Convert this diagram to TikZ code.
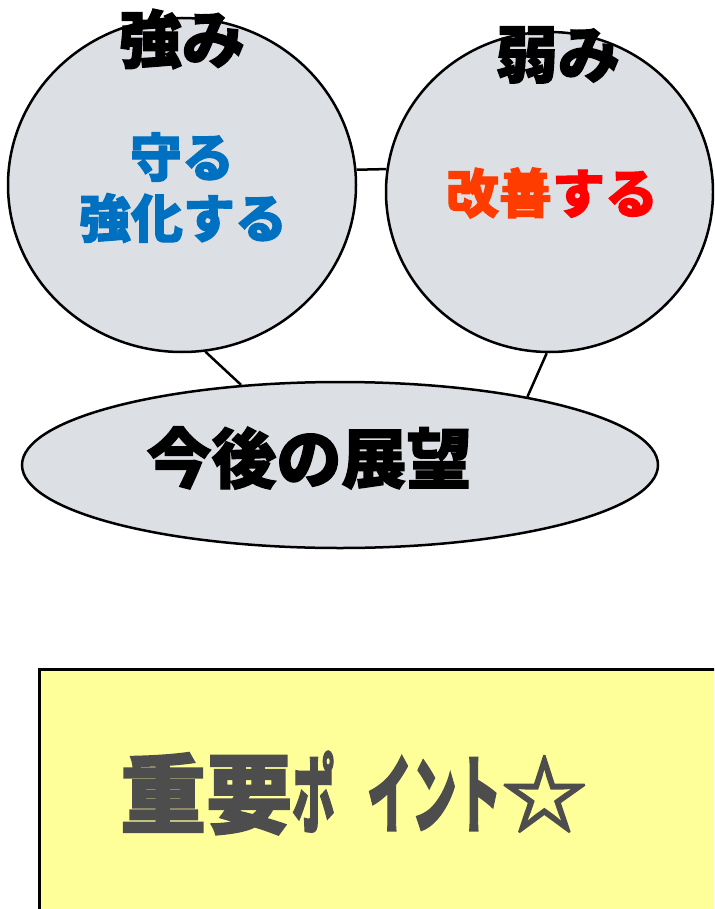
\documentclass[tikz,border=0pt]{standalone}
\usepackage{fontspec}
\usetikzlibrary{shapes.geometric}
\newfontfamily\jp{Noto Sans CJK JP}[BoldFeatures={FakeBold=2}]
\definecolor{cfill}{RGB}{220,223,228}
\definecolor{cblue}{RGB}{0,112,192}
\definecolor{corange}{RGB}{255,60,0}
\definecolor{cred}{RGB}{255,0,0}
\definecolor{cyellow}{RGB}{255,255,153}
\definecolor{cgray}{RGB}{77,77,77}
\tikzset{
  bubble/.style={ellipse, draw=black, line width=2.5pt, fill=cfill, inner sep=0pt},
  link/.style={draw=black, line width=2.5pt},
  lbl/.style={inner sep=0pt, font=\jp\bfseries},
}
\begin{document}
\begin{tikzpicture}[x=1pt,y=-1pt]
\useasboundingbox (0,0) rectangle (714,909);
\clip (0,0) rectangle (714,909);
% bubbles
\node[bubble, minimum width=348pt, minimum height=334pt] (L) at (182,185) {};
\node[bubble, minimum width=327pt, minimum height=320pt] (R) at (549.5,192) {};
\node[bubble, minimum width=636pt, minimum height=166pt] (E) at (340,465) {};
% connectors
\draw[link] (L.5) -- (R.172);
\draw[link] (L.-82) -- (E.141.7);
\draw[link] (R.-91.6) -- (E.20.8);
% labels
\node[lbl, text=black] (ts) at (182,39) {\fontsize{63}{63}\selectfont 強み};
\node[lbl, text=black] (tw) at (558,55) {\fontsize{62}{62}\selectfont 弱み};
\node[lbl, text=cblue] (t1) at (182,157) {\fontsize{52}{52}\selectfont 守る};
\node[lbl, text=cblue] (t2) at (183,218) {\fontsize{52}{52}\selectfont 強化する};
\node[lbl] (t3) at (552,193) {\fontsize{53}{53}\selectfont\textcolor{corange}{改善}\textcolor{cred}{する}};
\node[lbl, text=black] (t4) at (309,458) {\fontsize{65}{65}\selectfont 今後の展望};
% yellow box
\node[draw=black, line width=2.6pt, fill=cyellow, anchor=north west, minimum width=700pt, minimum height=260pt] (Y) at (38,668) {};
\node[lbl, text=cgray, anchor=west] (tp) at (120,793) {\fontsize{86}{86}\selectfont 重要\scalebox{0.5}[1]{ポ}\hspace{32pt}\scalebox{0.52}[1]{イント}☆};
\end{tikzpicture}
\end{document}
